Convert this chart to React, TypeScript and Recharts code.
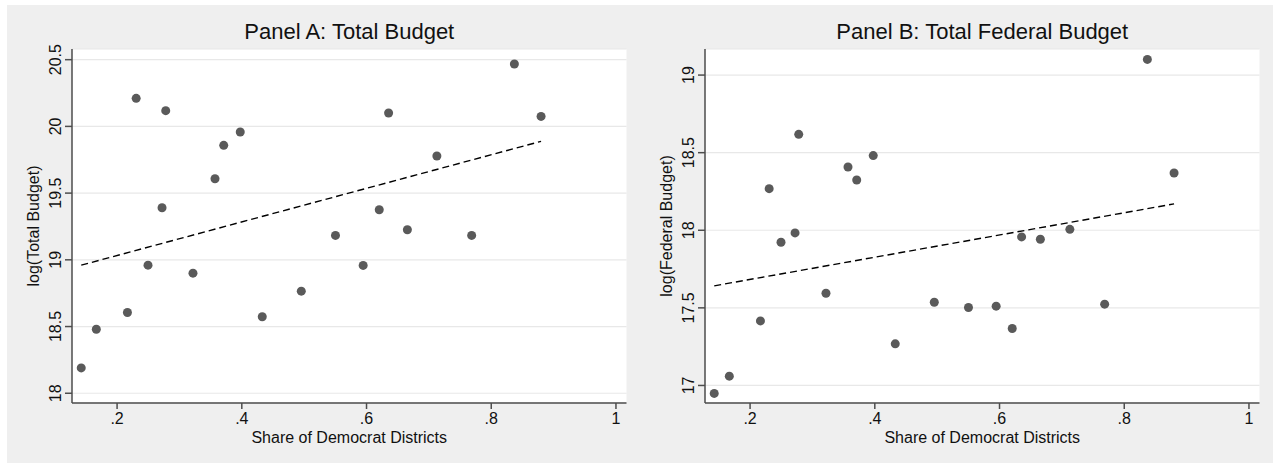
import { Label, Scatter, ScatterChart, XAxis, YAxis, CartesianGrid } from "recharts";

// district share (x) shared by both panels
const share = [
  0.1425, 0.1667, 0.2166, 0.2306, 0.2496, 0.2721, 0.278, 0.3217, 0.357, 0.371, 0.3975,
  0.4328, 0.4954, 0.5502, 0.5946, 0.6204, 0.6354, 0.6655, 0.7128, 0.7686, 0.8371, 0.8799,
];

const logTotal = [
  18.19, 18.48, 18.605, 20.21, 18.96, 19.39, 20.118, 18.9, 19.608, 19.858, 19.958,
  18.573, 18.765, 19.183, 18.958, 19.375, 20.1, 19.225, 19.778, 19.183, 20.468, 20.075,
];

const logFederal = [
  16.949, 17.06, 17.416, 18.268, 17.923, 17.983, 18.618, 17.594, 18.408, 18.324, 18.481,
  17.268, 17.536, 17.502, 17.511, 17.367, 17.957, 17.942, 18.006, 17.524, 19.101, 18.369,
];

// fitted lines
const fitX = [0.1425, 0.8799];
const fitTotal = [18.96, 19.888];
const fitFederal = [17.642, 18.17];

const xTicks = [0.2, 0.4, 0.6, 0.8, 1];
const yTicksA = [18, 18.5, 19, 19.5, 20, 20.5];
const yTicksB = [17, 17.5, 18, 18.5, 19];

const FONT = "'Liberation Sans', Arial, sans-serif";
const INK = "#111111";
const AXIS = "#4d4d4d";
const DOT = "#5a5a5a";

const W = 640;
const H = 464;

const pairs = (xs: number[], ys: number[]) => xs.map((x, i) => ({ x, y: ys[i] }));

const fmtX = (v: number) => (v === 1 ? "1" : String(v).replace(/^0/, ""));

const YTick = (props: any) => {
  const { x, y, payload } = props;
  return (
    <text
      transform={`translate(${x - 2},${y}) rotate(-90)`}
      textAnchor="middle"
      fontSize={16}
      fontFamily={FONT}
      fill={INK}
    >
      {String(payload.value)}
    </text>
  );
};

const XTick = (props: any) => {
  const { x, y, payload } = props;
  return (
    <text x={x} y={y + 13} textAnchor="middle" fontSize={16} fontFamily={FONT} fill={INK}>
      {fmtX(payload.value)}
    </text>
  );
};

const Dot = (props: any) => <circle cx={props.cx} cy={props.cy} r={4.5} fill={DOT} />;
const NoDot = () => null;

const Panel = ({
  title,
  yLabel,
  values,
  fit,
  yDomain,
  yTicks,
  left,
}: {
  title: string;
  yLabel: string;
  values: number[];
  fit: number[];
  yDomain: [number, number];
  yTicks: number[];
  left: number;
}) => (
  <div style={{ position: "absolute", left, top: 0, width: W, height: H }}>
    <div
      style={{
        position: "absolute",
        left: 72,
        width: 554.5,
        top: 19,
        textAlign: "center",
        fontFamily: FONT,
        fontSize: 22,
        color: INK,
        lineHeight: "26px",
      }}
    >
      {title}
    </div>
    <ScatterChart width={W} height={H} margin={{ top: 49, right: 13.5, bottom: 21, left: 12 }}>
      <CartesianGrid vertical={false} stroke="#e8e8e8" strokeWidth={1.2} fill="#ffffff" />
      <XAxis
        type="number"
        dataKey="x"
        domain={[0.1277, 1.0169]}
        ticks={xTicks}
        allowDataOverflow
        height={40}
        tick={<XTick />}
        tickSize={6}
        stroke={AXIS}
        strokeWidth={1.5}
      >
        <Label
          content={(p: any) => (
            <text
              x={p.viewBox.x + p.viewBox.width / 2}
              y={p.viewBox.y + 40}
              textAnchor="middle"
              fontSize={16}
              fontFamily={FONT}
              fill={INK}
            >
              Share of Democrat Districts
            </text>
          )}
        />
      </XAxis>
      <YAxis
        type="number"
        dataKey="y"
        domain={yDomain}
        ticks={yTicks}
        allowDataOverflow
        width={60}
        tick={<YTick />}
        tickSize={7}
        tickMargin={2}
        stroke={AXIS}
        strokeWidth={1.5}
      >
        <Label
          content={(p: any) => (
            <text
              transform={`translate(${p.viewBox.x + 27},${p.viewBox.y + p.viewBox.height / 2}) rotate(-90)`}
              textAnchor="middle"
              fontSize={16}
              fontFamily={FONT}
              fill={INK}
            >
              {yLabel}
            </text>
          )}
        />
      </YAxis>
      <Scatter
        data={pairs(fitX, fit)}
        shape={<NoDot />}
        line={{ stroke: "#000", strokeWidth: 1.4, strokeDasharray: "7 4" }}
        isAnimationActive={false}
      />
      <Scatter data={pairs(share, values)} shape={<Dot />} isAnimationActive={false} />
    </ScatterChart>
  </div>
);

export default function App() {
  return (
    <div style={{ position: "absolute", left: 0, top: 0, width: 1273, height: 464, background: "#fff" }}>
      <div style={{ position: "absolute", left: 7, top: 5, width: 1266, height: 458, background: "#efefef" }} />
      <Panel
        title="Panel A: Total Budget"
        yLabel="log(Total Budget)"
        values={logTotal}
        fit={fitTotal}
        yDomain={[17.927, 20.58]}
        yTicks={yTicksA}
        left={0}
      />
      <Panel
        title="Panel B: Total Federal Budget"
        yLabel="log(Federal Budget)"
        values={logFederal}
        fit={fitFederal}
        yDomain={[16.887, 19.168]}
        yTicks={yTicksB}
        left={633}
      />
    </div>
  );
}
